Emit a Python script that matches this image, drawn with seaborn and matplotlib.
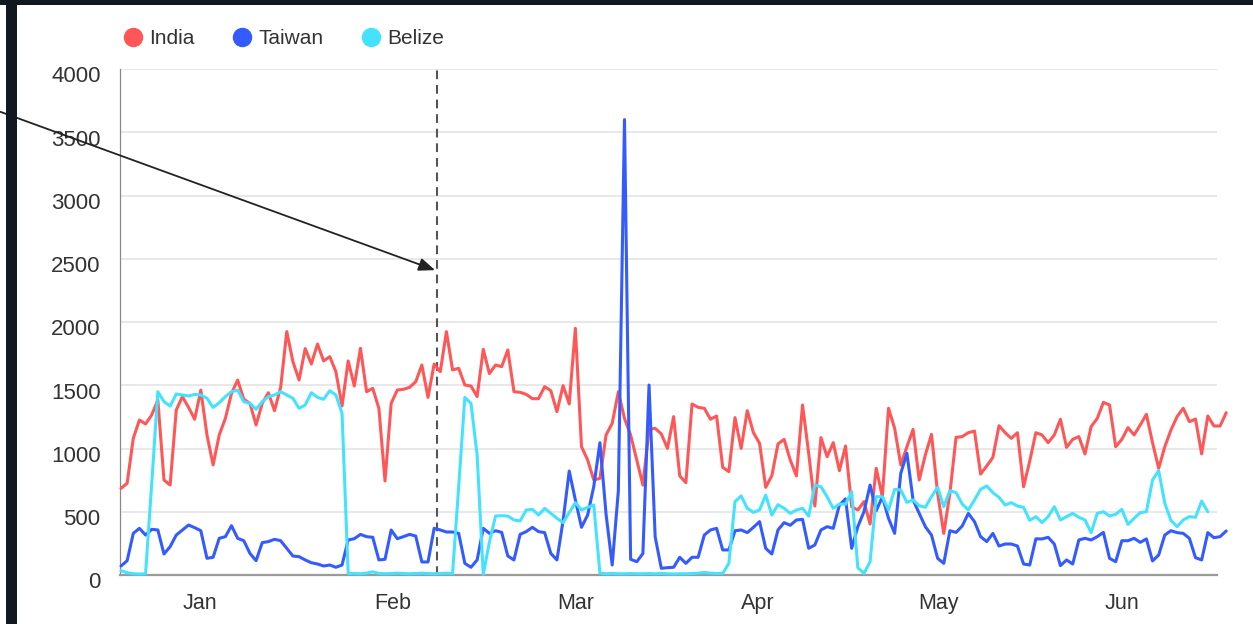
import numpy as np
import pandas as pd
import matplotlib
matplotlib.use("Agg")
import matplotlib.pyplot as plt
from matplotlib.lines import Line2D
from matplotlib.patches import Rectangle
from matplotlib.transforms import ScaledTranslation
import seaborn as sns

# ---------------- data ----------------
countries = ["India", "Taiwan", "Belize"]
colors = ["#ff5757", "#335bff", "#45e2ff"]
months = ["Jan", "Feb", "Mar", "Apr", "May", "Jun"]

india = [685, 725, 1080, 1225, 1194, 1265, 1383, 751, 711, 1304,
         1410, 1325, 1231, 1462, 1107, 870, 1107, 1238, 1436, 1541,
         1389, 1357, 1186, 1357, 1441, 1299, 1483, 1924, 1686, 1541,
         1790, 1668, 1826, 1692, 1726, 1607, 1336, 1692, 1494, 1792,
         1449, 1476, 1318, 743, 1357, 1462, 1468, 1483, 1528, 1660,
         1404, 1668, 1607, 1924, 1621, 1634, 1502, 1494, 1410, 1784,
         1592, 1660, 1647, 1779, 1449, 1444, 1428, 1394, 1394, 1489,
         1457, 1291, 1497, 1352, 1950, 1014, 909, 751, 764, 1107,
         1199, 1449, 1238, 1107, 909, 711, 1151, 1159, 1115, 1001,
         1252, 783, 730, 1352, 1325, 1318, 1231, 1257, 851, 817,
         1244, 1001, 1299, 1125, 1041, 693, 785, 1036, 1072, 909,
         783, 1344, 962, 545, 1086, 935, 1046, 825, 1020, 540,
         514, 580, 403, 843, 619, 1318, 1159, 870, 1014, 1151,
         751, 949, 1112, 646, 329, 646, 1088, 1094, 1125, 1138,
         798, 862, 930, 1180, 1125, 1080, 1125, 698, 900, 1125,
         1107, 1046, 1107, 1231, 1009, 1072, 1094, 957, 1173, 1238,
         1365, 1344, 1014, 1072, 1165, 1107, 1186, 1270, 1046, 843,
         1014, 1146, 1252, 1318, 1212, 1233, 957, 1257, 1178, 1178,
         1283]

taiwan = [71, 113, 329, 369, 316, 361, 356, 166, 224, 316,
          356, 395, 374, 350, 132, 140, 290, 303, 390, 290,
          271, 171, 113, 256, 264, 282, 271, 211, 150, 145,
          119, 97, 87, 71, 79, 61, 79, 277, 287, 321,
          303, 298, 119, 124, 356, 287, 303, 321, 308, 103,
          103, 369, 356, 340, 340, 329, 92, 61, 119, 369,
          329, 350, 337, 150, 119, 321, 343, 377, 343, 335,
          171, 119, 430, 822, 593, 377, 474, 700, 1046, 480,
          79, 665, 3600, 124, 105, 170, 1502, 300, 53, 58,
          61, 140, 92, 140, 140, 316, 356, 369, 198, 198,
          350, 356, 335, 377, 422, 211, 166, 356, 414, 393,
          435, 440, 211, 237, 356, 382, 369, 553, 602, 211,
          382, 500, 711, 508, 619, 448, 329, 804, 962, 593,
          487, 382, 316, 132, 92, 350, 337, 387, 487, 422,
          303, 264, 329, 229, 245, 245, 229, 87, 79, 286,
          285, 298, 245, 74, 119, 87, 277, 290, 277, 303,
          337, 132, 105, 271, 271, 290, 258, 285, 111, 158,
          316, 350, 335, 329, 290, 137, 119, 335, 295, 303,
          348]

belize = [34, 18, 10, 8, 10, 720, 1449, 1370, 1336, 1431,
          1423, 1415, 1428, 1423, 1397, 1325, 1362, 1410, 1449, 1462,
          1370, 1357, 1310, 1370, 1410, 1423, 1449, 1423, 1397, 1317,
          1344, 1441, 1404, 1389, 1457, 1423, 1278, 12, 12, 10,
          15, 25, 12, 10, 12, 15, 12, 10, 12, 15,
          12, 10, 12, 15, 10, 700, 1404, 1357, 949, 5,
          260, 466, 469, 466, 435, 427, 514, 519, 474, 527,
          487, 448, 414, 493, 572, 514, 535, 553, 15, 10,
          12, 10, 10, 12, 10, 10, 12, 10, 12, 10,
          8, 10, 10, 12, 15, 20, 15, 12, 13, 92,
          580, 625, 527, 495, 514, 632, 474, 556, 527, 487,
          514, 527, 466, 711, 698, 619, 527, 561, 560, 659,
          58, 13, 105, 619, 619, 514, 677, 672, 574, 593,
          548, 535, 619, 693, 540, 667, 651, 561, 514, 593,
          677, 704, 651, 614, 553, 572, 545, 535, 432, 461,
          414, 461, 540, 435, 461, 487, 456, 435, 335, 487,
          500, 466, 480, 519, 400, 448, 493, 500, 751, 825,
          567, 430, 382, 435, 461, 456, 585, 500]

marker_day = 51.5
arrow_value = 2410
y_ticks = [0, 500, 1000, 1500, 2000, 2500, 3000, 3500, 4000]

# ---------------- styling ----------------
sns.set_theme(style="white")
plt.rcParams["font.family"] = ["Liberation Sans", "DejaVu Sans"]

W, H = 1253, 624
fig = plt.figure(figsize=(W / 100, H / 100), dpi=100)
fig.patch.set_facecolor("white")

ax = fig.add_axes([120 / W, 1 - 575 / H, 1097 / W, 506 / H])

frames = []
for c, v in zip(countries, [india, taiwan, belize]):
    frames.append(pd.DataFrame({"day": np.arange(len(v)), "value": v, "country": c}))
df = pd.concat(frames, ignore_index=True)

sns.lineplot(data=df, x="day", y="value", hue="country", hue_order=countries,
             palette=colors, linewidth=2.2, legend=False, ax=ax,
             estimator=None, sort=False)
for ln in ax.lines:
    ln.set_clip_on(False)
    ln.set_solid_joinstyle("round")
    ln.set_zorder(3)

xmin, xmax = -0.163, 178.5
ax.set_xlim(xmin, xmax)
ax.set_ylim(0, 4000)

ax.set_yticks(y_ticks)
ax.set_yticklabels([str(t) for t in y_ticks])
ax.yaxis.grid(True, color="#e4e4e4", linewidth=1.2)
ax.xaxis.grid(False)
ax.set_axisbelow(True)

ax.set_xticks(np.linspace(xmin, xmax, 7))
ax.set_xticklabels([""] * 7)
ax.set_xticks([12.87, 44.3, 74.1, 103.7, 133.1, 163.0], minor=True)
ax.set_xticklabels(months, minor=True)

ax.tick_params(axis="y", length=0, pad=14, labelsize=16, labelcolor="#333333")
ax.tick_params(axis="x", which="major", length=5, width=1, color="#999999")
ax.tick_params(axis="x", which="minor", length=0, pad=13, labelsize=15.5,
               labelcolor="#333333")
ax.set_xlabel("")
ax.set_ylabel("")

# y labels sit slightly below their gridlines in the reference
shift = ScaledTranslation(0, -0.055, fig.dpi_scale_trans)
for lab in ax.get_yticklabels():
    lab.set_transform(lab.get_transform() + shift)

for s in ["top", "right"]:
    ax.spines[s].set_visible(False)
ax.spines["left"].set_color("#888888")
ax.spines["left"].set_linewidth(0.9)
ax.spines["bottom"].set_color("#9a9a9a")
ax.spines["bottom"].set_linewidth(1.6)

# dashed marker line
ax.axvline(marker_day, color="#555555", linewidth=1.5, dashes=(4.2, 2.8), zorder=2)

# arrow annotation from outside left
ax.annotate("", xy=(marker_day - 0.35, arrow_value), xycoords="data",
            xytext=(0, H - 111.7), textcoords="figure pixels",
            arrowprops=dict(arrowstyle="-|>,head_length=0.7,head_width=0.28",
                            color="#222222", lw=1.3, mutation_scale=14,
                            shrinkA=0, shrinkB=0),
            annotation_clip=False, zorder=5)

# legend
handles = [Line2D([], [], marker="o", linestyle="", markersize=13,
                  markerfacecolor=c, markeredgecolor=c) for c in colors]
fig.legend(handles, countries, loc="center left",
           bbox_to_anchor=(123.6 / W, 1 - 38.5 / H), ncol=3, frameon=False,
           fontsize=15, handlelength=0.9, handletextpad=0.32,
           columnspacing=1.85, borderpad=0, borderaxespad=0,
           labelcolor="#333333")

# dark screenshot frame
fig.patches.append(Rectangle((0, 1 - 5 / H), 1, 5 / H, transform=fig.transFigure,
                             facecolor="#111820", edgecolor="none", zorder=10))
fig.patches.append(Rectangle((6 / W, 0), 11 / W, 1, transform=fig.transFigure,
                             facecolor="#111820", edgecolor="none", zorder=10))

fig.savefig("out.png", dpi=100)
